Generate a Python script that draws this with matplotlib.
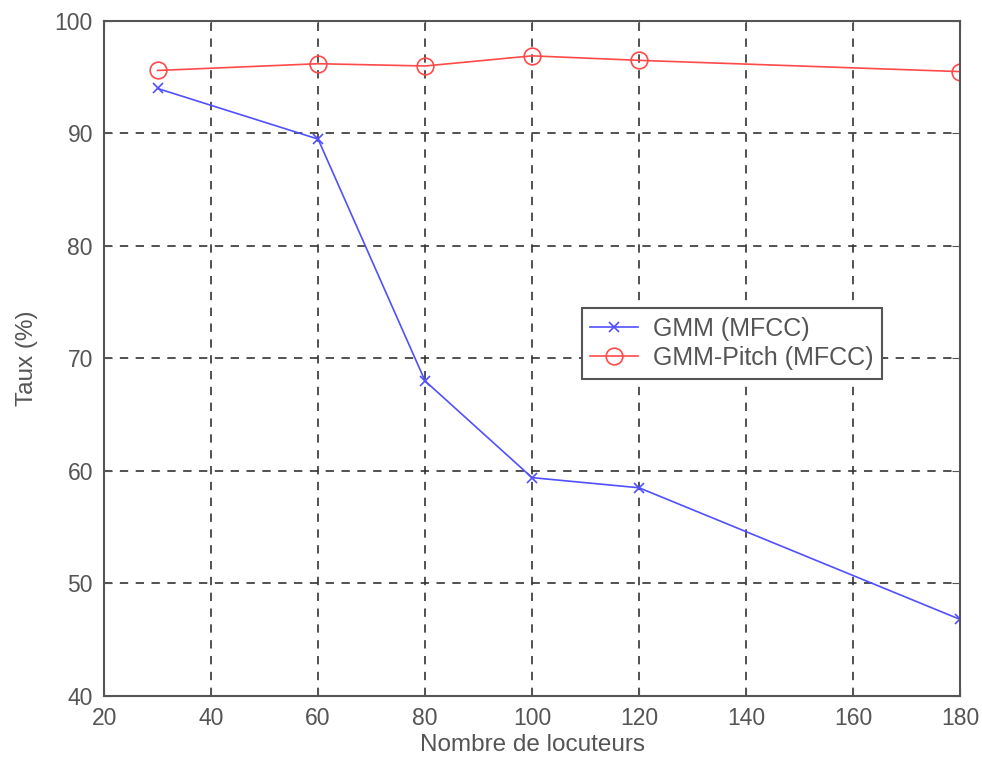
import matplotlib
matplotlib.use("Agg")
import matplotlib.pyplot as plt

locuteurs = [30, 60, 80, 100, 120, 180]
gmm_mfcc = [94.0, 89.5, 68.0, 59.4, 58.5, 46.8]
gmm_pitch = [95.6, 96.2, 96.0, 96.9, 96.5, 95.5]

plt.rcParams["font.family"] = ["Liberation Sans", "DejaVu Sans"]
grey = "#555555"

fig = plt.figure(figsize=(9.82, 7.63), dpi=100)
ax = fig.add_axes([0.106, 0.088, 0.8716, 0.8845])

ax.plot(locuteurs, gmm_mfcc, color="#5050ff", lw=1.2, marker="x", ms=7.5,
        mew=1.2, label="GMM (MFCC)")
ax.plot(locuteurs, gmm_pitch, color="#ff4a4a", lw=1.2, marker="o", ms=12,
        mfc="none", mew=1.2, label="GMM-Pitch (MFCC)")

ax.set_xlim(20, 180)
ax.set_ylim(40, 100)
ax.set_xticks(range(20, 181, 20))
ax.set_yticks(range(40, 101, 10))
ax.grid(True, ls=(0, (5, 4.5)), color="#333333", lw=1.2)
ax.tick_params(direction="in", length=6, colors=grey, labelsize=16.5,
               top=True, right=True, pad=8)
for s in ax.spines.values():
    s.set_color(grey)
    s.set_linewidth(1.5)

ax.set_xlabel("Nombre de locuteurs", fontsize=17.5, color=grey, labelpad=3)
ax.set_ylabel("Taux (%)", fontsize=17.5, color=grey, labelpad=12)

leg = ax.legend(loc="lower left", bbox_to_anchor=(0.558, 0.47), fontsize=18,
                fancybox=False, framealpha=1, edgecolor=grey, borderpad=0.35,
                handlelength=1.9, handletextpad=0.6, labelspacing=0.2,
                borderaxespad=0)
leg.get_frame().set_linewidth(1.5)
for t in leg.get_texts():
    t.set_color(grey)

fig.savefig("out.png", dpi=100)
